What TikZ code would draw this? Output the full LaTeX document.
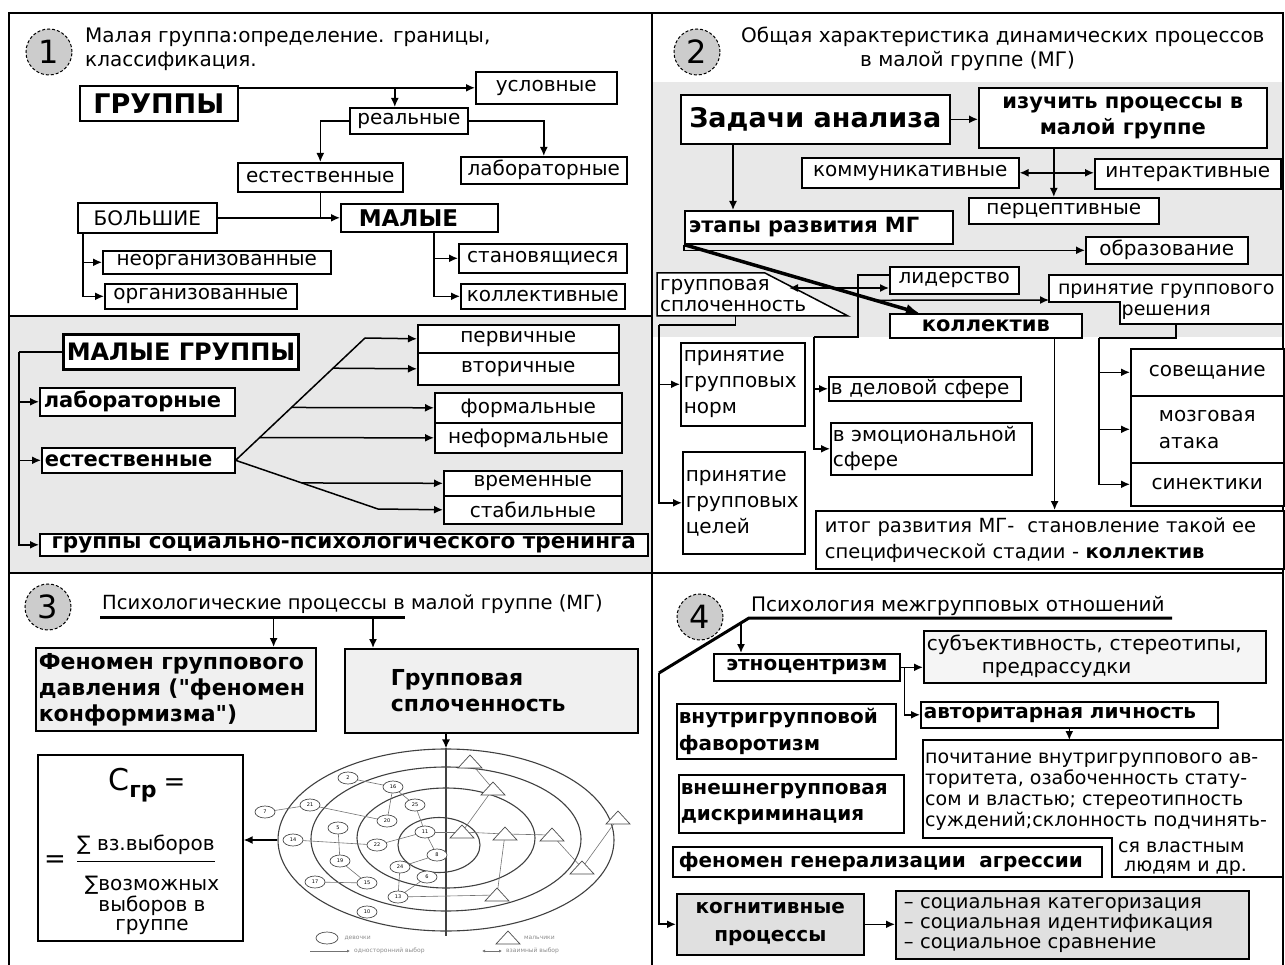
\documentclass[tikz,border=0pt]{standalone}
\usepackage{fontspec}
\setmainfont{DejaVu Sans}
\newfontfamily\qfont{DejaVu Sans}
\usepackage{tikz}
\usetikzlibrary{arrows.meta,calc,shapes.geometric}
\tikzset{box/.style={draw, line width=1.6pt, fill=white, inner xsep=2pt, inner ysep=1pt,
   anchor=north west, font=\fontsize{20}{23}\selectfont},
 bbox/.style={box, font=\fontsize{21}{26}\selectfont\bfseries},
 sz/.style 2 args={minimum width=#1, minimum height=#2},
 lft/.style 2 args={inner xsep=#1, text width=#2, align=left},
 ln/.style={line width=1.5pt},
 arr/.style={line width=1.5pt, ->},
 >={Latex[length=9pt,width=8pt]},
 num/.style={circle, draw, densely dashed, line width=1pt, fill=gray!40, minimum size=46pt,
   inner sep=0pt, font=\fontsize{32}{32}\selectfont},
 ttl/.style={anchor=base west, inner sep=0pt, align=left, font=\fontsize{20}{24}\selectfont},
 txt/.style={anchor=base west, inner sep=0pt, align=left, font=\fontsize{20}{23}\selectfont},
 ring/.style={ellipse, draw=black!75, line width=1.1pt, inner sep=0pt},
 sn/.style={ellipse, draw=black!70, line width=.7pt, fill=white, minimum width=20pt,
   minimum height=12pt, inner sep=0pt, font=\fontsize{5}{5}\selectfont},
 sline/.style={draw=black!55, line width=.6pt},
 lg/.style={anchor=west, inner sep=0pt, text=black!45, font=\fontsize{6}{6}\selectfont},
}
\begin{document}
\begin{tikzpicture}[x=1pt, y=-1pt]
\useasboundingbox (0,0) rectangle (1285,965);
% фон и рамка
\fill[gray!18] (9,316) rectangle (652,573);
\fill[gray!18] (652,82) rectangle (1283,337);
\draw[line width=1.5pt] (9,965) -- (9,13) -- (1283,13) -- (1283,965);
\draw[line width=1.5pt] (652,13) -- (652,965);
\draw[line width=1.5pt] (9,316) -- (652,316);
\draw[line width=1.5pt] (9,573) -- (1283,573);

% 1
\node[num] (n1) at (49,52) {1};
\node[ttl] (t1) at (85,67) {Малая группа:определение. границы,\\классификация.};
\node[bbox, sz={158}{35}, font=\fontsize{27}{30}\selectfont\bfseries] (grp) at (79,85) {ГРУППЫ};
\node[box, sz={141}{32}] (usl) at (475,71) {условные};
\node[box, sz={118}{26}] (real) at (349,107) {реальные};
\node[box, sz={165}{29}] (est) at (237,162) {естественные};
\node[box, sz={166}{27}] (lab) at (460,156) {лабораторные};
\node[box, sz={139}{30}] (bol) at (77,202) {БОЛЬШИЕ};
\node[bbox, lft={18pt}{121pt}, minimum height=28, font=\fontsize{23}{26}\selectfont\bfseries] (mal) at (340,203) {МАЛЫЕ};
\node[box, sz={228}{23}] (neorg) at (102,250) {неорганизованные};
\node[box, sz={192}{25}] (org) at (104,283) {организованные};
\node[box, sz={168}{29}] (stan) at (458,243) {становящиеся};
\node[box, sz={164}{25}] (kol) at (460,283) {коллективные};
\draw[arr] (grp.east |- usl.west) -- (usl.west);
\draw[arr] ([xshift=-14pt]real.north |- usl.west) -- ([xshift=-14pt]real.north);
\draw[arr] (real.west) -| (est.north);
\draw[arr] (real.east) -| (lab.north);
\draw[ln] (est.south) -- (est.south |- mal.west);
\draw[arr] (bol.east) -- (mal.west);
\draw[arr] ([xshift=6pt]bol.south west) |- (neorg.west);
\draw[arr] ([xshift=6pt]bol.south west) |- (org.west);
\draw[arr] ([xshift=94pt]mal.south west) |- (stan.west);
\draw[arr] ([xshift=94pt]mal.south west) |- (kol.west);

% малые группы
\node[bbox, sz={235}{35}, line width=3pt, font=\fontsize{24}{28}\selectfont\bfseries] (mg) at (62,333) {МАЛЫЕ ГРУППЫ};
\node[bbox, lft={4pt}{187pt}, minimum height=28] (lab2) at (39,387) {лабораторные};
\node[bbox, lft={3pt}{187pt}, minimum height=25] (est2) at (41,447) {естественные};
\node[bbox, sz={608}{22}, font=\fontsize{21.5}{24}\selectfont\bfseries] (tren) at (39,533) {группы социально-психологического тренинга};
\node[box, sz={201}{28}] (perv) at (417,324) {первичные};
\node[box, sz={201}{32}] (vtor) at (417,352) {вторичные};
\node[box, sz={187}{30}] (form) at (434,392) {формальные};
\node[box, sz={187}{30}] (nform) at (434,422) {неформальные};
\node[box, sz={178}{25}] (vrem) at (443,470) {временные};
\node[box, sz={178}{28}] (stab) at (443,495) {стабильные};
\draw[ln] (mg.west) -- ++(-43,0) coordinate (mgl);
\draw[arr] (mgl) |- (lab2.west);
\draw[arr] (mgl) |- (est2.west);
\draw[arr] (mgl) |- (tren.west);
\coordinate (fa) at (365,338);
\coordinate (fb) at (378,509);
\draw[ln] (est2.east) -- (fa);
\draw[ln] (est2.east) -- (fb);
\draw[arr] (fa) -- (perv.west);
\draw[arr] ($(est2.east)!0.753!(fa)$) -- (vtor.west);
\draw[arr] ($(est2.east)!0.432!(fa)$) -- (form.west);
\draw[arr] ($(est2.east)!0.185!(fa)$) -- (nform.west);
\draw[arr] ($(est2.east)!0.465!(fb)$) -- (vrem.west);
\draw[arr] (fb) -- (stab.west);

% 2
\node[num] (n2) at (697,52) {2};
\node[ttl] (t2) at (741,67) {Общая характеристика динамических процессов\\\hspace*{119pt}в малой группе (МГ)};
\node[bbox, sz={269}{49}, font=\fontsize{27}{30}\selectfont\bfseries] (zad) at (680,94) {Задачи анализа};
\node[bbox, sz={288}{60}, align=center] (izu) at (978,87) {изучить процессы в\\малой группе};
\node[box, sz={217}{30}] (komm) at (801,157) {коммуникативные};
\node[box, sz={186}{30}] (inter) at (1094,158) {интерактивные};
\node[box, sz={190}{26}] (perc) at (968,197) {перцептивные};
\node[bbox, lft={4pt}{260pt}, minimum height=33] (etap) at (684,210) {этапы развития МГ};
\node[box, sz={162}{27}] (obr) at (1085,236) {образование};
\node[box, sz={129}{27}] (lid) at (889,266) {лидерство};
\node[bbox, sz={192}{24}] (kolv) at (889,313) {коллектив};
\draw[arr] (zad.east) -- (zad.east -| izu.west);
\draw[arr] ([xshift=-69pt]izu.south) -- ([xshift=-69pt]izu.south |- perc.north);
\draw[<->, ln] (komm.east) -- (komm.east -| inter.west);
\draw[arr] ([xshift=53pt]zad.south west) -- ([xshift=53pt]zad.south west |- etap.north);
\draw[arr] (etap.south west) |- (obr.west);
% групповая сплоченность
\draw[ln, fill=white] (657,273) coordinate (g1) -- (765,273) -- (848,316) coordinate (g3) -- (657,316) coordinate (g4) -- cycle;
\node[txt, lft={3pt}{180pt}, font=\fontsize{20}{21}\selectfont] (grsp) at (657,291) {групповая\\сплоченность};
% принятие группового решения
\draw[ln, fill=white] (1049,275) -- (1283,275) -- (1283,324) -- (1120,324) coordinate (r4) -- (1120,302) -- (1049,302) -- cycle;
\node[txt, align=center, text width=234pt, font=\fontsize{19}{21}\selectfont] (resh) at (1049,295) {принятие группового\\решения};
\coordinate (rsl) at (1049,300);
\draw[line width=3.5pt, -{Latex[length=13pt,width=11pt]}] (etap.south west) -- ([xshift=30pt]kolv.north west);
\draw[arr] ($(etap.south west)!0.814!([xshift=30pt]kolv.north west)$) -- (rsl);
\coordinate (gsr) at (789,288);
\draw[<->, ln] (gsr) -- (gsr -| lid.west);
% лидерство
\node[box, lft={2pt}{188pt}, minimum height=24] (delo) at (828,376) {в деловой сфере};
\node[box, lft={2pt}{197pt}, minimum height=52, font=\fontsize{20}{25}\selectfont] (emo) at (830,422) {в эмоциональной\\сфере};
\coordinate (lt) at (858,337);
\coordinate (lb) at (814,337);
\draw[ln] ([yshift=-9pt]lid.north west) -| (lt) -- (lb);
\draw[arr] (lb) |- (delo.west);
\draw[arr] (lb) |- (emo.west);
% нормы и цели
\node[box, lft={3pt}{118pt}, minimum height=83, font=\fontsize{20}{26}\selectfont] (norm) at (680,342) {принятие\\групповых\\норм};
\node[box, lft={3pt}{116pt}, minimum height=102, font=\fontsize{20}{26}\selectfont] (cel) at (682,451) {принятие\\групповых\\целей};
\coordinate (gl) at (659,325);
\draw[ln] ($(g4)!0.41!(g3)$) |- (gl);
\draw[arr] (gl) |- (norm.west);
\draw[arr] (gl) |- (cel.west);
% методы решения
\node[box, sz={153}{47}] (sov) at (1130,348) {совещание};
\node[box, sz={153}{67}, align=left, font=\fontsize{20}{27}\selectfont] (mozg) at (1130,395) {мозговая\\атака};
\node[box, sz={153}{43}] (sin) at (1130,462) {синектики};
\coordinate (rb) at (1099,338);
\draw[ln] ([xshift=56pt]r4) |- (rb);
\draw[arr] (rb) |- (sov.west);
\draw[arr] (rb) |- (mozg.west);
\draw[arr] (rb) |- (sin.west);
% итог
\node[box, lft={9pt}{450pt}, minimum height=58, font=\fontsize{19.5}{26}\selectfont] (itog) at (815,510) {итог развития МГ-\ \ становление такой ее\\специфической стадии - \textbf{коллектив}};
\draw[arr] ([xshift=-28pt]kolv.south east) -- ([xshift=-28pt]kolv.south east |- itog.north);

% 3
\node[num] (n3) at (48,607) {3};
\node[ttl, font=\fontsize{19.5}{24}\selectfont] (t3) at (102,609) {Психологические процессы в малой группе (МГ)};
\coordinate (u3a) at (100,617);
\coordinate (u3b) at (405,617);
\draw[line width=3pt] (u3a) -- (u3b);
\node[bbox, lft={3pt}{274pt}, minimum height=83, fill=gray!12, font=\fontsize{22}{26}\selectfont\bfseries] (fen) at (35,647) {Феномен группового\\давления ({\qfont"}феномен\\конформизма{\qfont"})};
\node[bbox, lft={46pt}{201pt}, minimum height=84, fill=gray!12, font=\fontsize{22}{26}\selectfont\bfseries] (grsp3) at (344,648) {Групповая\\сплоченность};
\draw[arr] ([xshift=-43pt]fen.north east |- u3a) -- ([xshift=-43pt]fen.north east);
\draw[arr] ([xshift=29pt]grsp3.north west |- u3a) -- ([xshift=29pt]grsp3.north west);
% формула
\node[box, sz={205}{186}] (cgr) at (37,754) {};
\node[anchor=base, inner sep=0pt] (cg) at (147,790) {{\fontsize{30}{30}\selectfont С}{\fontsize{22}{22}\selectfont\bfseries\raisebox{-7pt}{гр}}\hspace{7pt}{\fontsize{26}{26}\selectfont =}};
\node[anchor=base west, inner sep=0pt, font=\fontsize{20}{22}\selectfont] (numr) at (77,850) {∑ вз.выборов};
\draw[line width=1.2pt] ([yshift=-7pt]numr.south west) -- ([yshift=-7pt]numr.south east);
\node[inner sep=0pt, font=\fontsize{26}{26}\selectfont] (eq) at (55,862) {=};
\node[anchor=base, align=center, inner sep=0pt, font=\fontsize{20}{19}\selectfont] (den) at (152,930) {∑возможных\\выборов в\\группе};
% социограмма
\node[ring, minimum width=336, minimum height=182] (so) at (446,840) {};
\node[ring, minimum width=270, minimum height=144] (so2) at (446,839) {};
\node[ring, minimum width=178, minimum height=100] (so3) at (446,838) {};
\node[ring, minimum width=82, minimum height=55] (so4) at (439,845) {};
\draw[line width=1.1pt, black!75] (so.north) -- ([yshift=-4pt]so.south);
\draw[arr] ([xshift=102pt]grsp3.south west) -- (so.north);
\draw[arr] (so.west) -- (so.west -| cgr.east);
\foreach \n/\x/\y in {2/348/778, 16/393/787, 25/415/805, 21/310/805, 7/265/812, 20/387/821,
  5/338/828, 14/293/840, 22/377/845, 11/425/832, 8/437/855, 19/340/861, 24/400/867,
  6/427/877, 17/315/882, 15/367/883, 13/398/897, 10/367/912}
  \coordinate (s\n) at (\x,\y);
\foreach \n/\x/\y in {1/470/762, 2/493/789, 3/462/832, 4/505/834, 5/552/835, 6/618/818, 7/582/868, 8/497/895}
  \coordinate (t\n) at (\x,\y);
\foreach \a/\b in {s2/s16, s16/s20, s16/s25, s21/s20, s7/s21, s25/s11, s5/s19, s14/s22, s22/s11,
  s11/s8, s8/s24, s24/s13, s6/s13, s19/s15, s17/s15, s13/t8, t1/t2, t2/t3, s11/t3, t3/t4,
  t4/t5, t4/t8, t5/t7, t7/t6}
  \draw[sline] (\a) -- (\b);
\foreach \n in {2,16,25,21,7,20,5,14,22,11,8,19,24,6,17,15,13,10}
  \node[sn] at (s\n) {\n};
\foreach \n in {1,...,8}
  \draw[black!70, line width=.7pt, fill=white] ($(t\n)+(-12,6)$) -- ($(t\n)+(0,-7)$) -- ($(t\n)+(12,6)$) -- cycle;
% легенда
\node[sn, minimum width=22pt] (lg1) at (327,938) {};
\node[lg] at ([xshift=6pt]lg1.east) {девочки};
\coordinate (lg2) at (508,938);
\draw[black!70, line width=.7pt, fill=white] ($(lg2)+(-12,6)$) -- ($(lg2)+(0,-7)$) -- ($(lg2)+(12,6)$) -- cycle;
\node[lg] at ([xshift=16pt]lg2) {мальчики};
\coordinate (lg3) at (310,951);
\draw[sline, ->, >={Latex[length=3pt,width=3pt]}] (lg3) -- ++(40,0) coordinate (lg4);
\node[lg] at ([xshift=4pt]lg4) {односторонний выбор};
\coordinate (lg5) at (482,951);
\draw[sline, <->, >={Latex[length=3pt,width=3pt]}] (lg5) -- ++(20,0) coordinate (lg6);
\node[lg] at ([xshift=4pt]lg6) {взаимный выбор};

% 4
\node[num] (n4) at (700,617) {4};
\node[ttl] (t4) at (751,611) {Психология межгрупповых отношений};
\coordinate (u4a) at (1172,618);
\coordinate (u4b) at (749,618);
\coordinate (u4c) at (659,673);
\coordinate (u4d) at ($(u4b)!0.089!(u4c)$);
\draw[line width=3pt] (u4a) -- (u4b) -- (u4c);
\node[bbox, sz={186}{27}, font=\fontsize{20}{24}\selectfont\bfseries] (etno) at (713,653) {этноцентризм};
\node[box, lft={3pt}{336pt}, minimum height=52, fill=gray!8] (subj) at (923,630) {субъективность, стереотипы,\\\hspace*{55pt}предрассудки};
\node[bbox, lft={3pt}{291pt}, minimum height=26, font=\fontsize{20}{24}\selectfont\bfseries] (avt) at (920,701) {авторитарная личность};
\draw[arr] (u4d) -- (u4d |- etno.north);
\draw[arr] (etno.east) -- (etno.east -| subj.west);
\draw[arr] ([xshift=4pt]etno.east) |- (avt.west);
\draw[ln, fill=white] (923,740) coordinate (p1) -- (1283,740) -- (1283,877) -- (1112,877) -- (1112,838) -- (923,838) -- cycle;
\node[txt, font=\fontsize{19}{21}\selectfont] (poch) at (925,826) {почитание внутригруппового ав-\\торитета, озабоченность стату-\\сом и властью; стереотипность\\суждений;склонность подчинять-};
\node[txt, font=\fontsize{19}{19}\selectfont] (poch2) at (1118,871) {ся властным\\\hspace*{6pt}людям и др.};
\draw[arr] (avt.south) -- (avt.south |- p1);
\node[bbox, lft={2pt}{215pt}, minimum height=55, font=\fontsize{20}{27}\selectfont\bfseries] (vnu) at (676,703) {внутригрупповой\\фаворотизм};
\node[bbox, lft={2pt}{221pt}, minimum height=58, font=\fontsize{20}{26}\selectfont\bfseries] (vne) at (678,774) {внешнегрупповая\\дискриминация};
\node[bbox, lft={6pt}{417pt}, minimum height=30, font=\fontsize{20}{24}\selectfont\bfseries] (fga) at (672,846) {феномен генерализации\ \ агрессии};
\node[bbox, sz={187}{61}, align=center, fill=gray!24, font=\fontsize{20}{28}\selectfont\bfseries] (kogn) at (676,893) {когнитивные\\процессы};
\node[box, lft={8pt}{337pt}, minimum height=68, fill=gray!24, font=\fontsize{19.5}{20}\selectfont] (soc) at (895,890) {– социальная категоризация\\– социальная идентификация\\– социальное сравнение};
\draw[line width=2pt, ->] (u4c) |- (kogn.west);
\draw[arr] (kogn.east) -- (kogn.east -| soc.west);
\end{tikzpicture}
\end{document}
